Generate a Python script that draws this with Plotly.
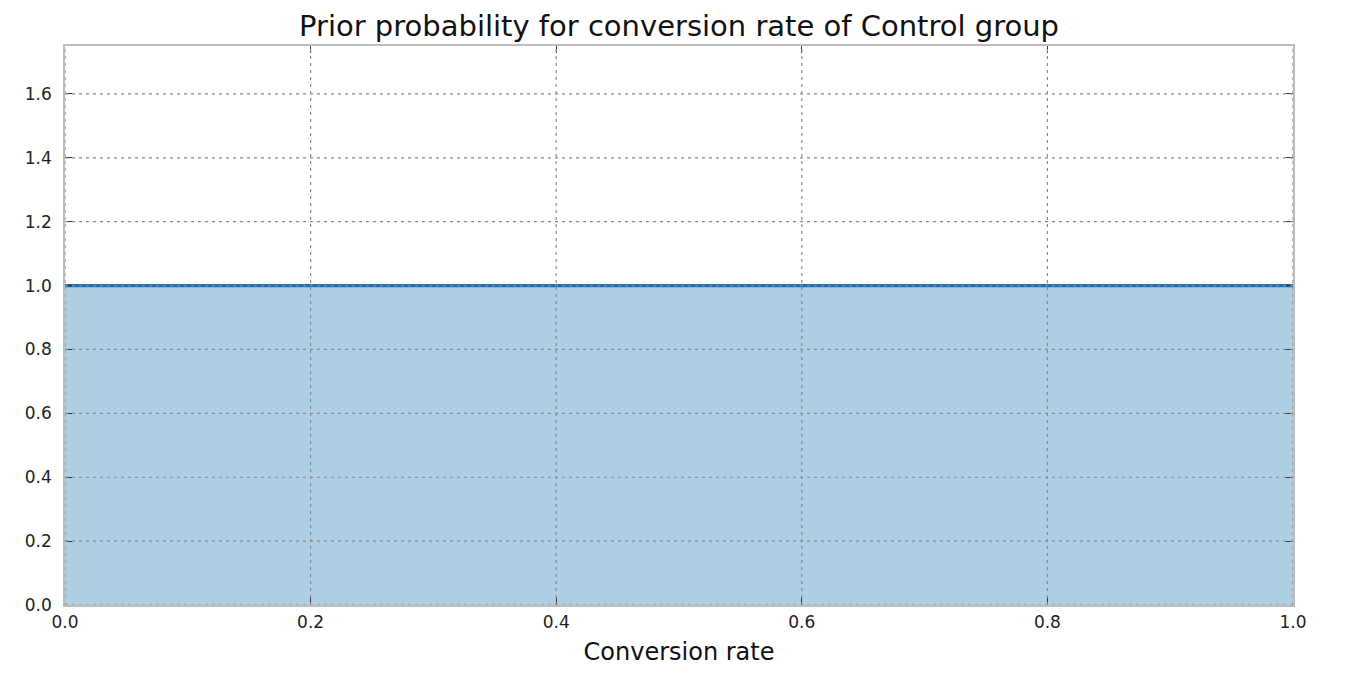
import plotly.graph_objects as go

# Uniform prior Beta(1,1) for conversion rate
conversion_rate = [0.0, 0.25, 0.5, 0.75, 1.0]
prior_density = [1.0, 1.0, 1.0, 1.0, 1.0]

x_ticks = [0.0, 0.2, 0.4, 0.6, 0.8, 1.0]
x_tick_labels = ["0.0", "0.2", "0.4", "0.6", "0.8", "1.0"]
y_ticks = [0.0, 0.2, 0.4, 0.6, 0.8, 1.0, 1.2, 1.4, 1.6]
y_tick_labels = ["0.0", "0.2", "0.4", "0.6", "0.8", "1.0", "1.2", "1.4", "1.6"]

fig = go.Figure()
fig.add_trace(go.Scatter(
    x=conversion_rate, y=prior_density, mode="lines",
    line=dict(color="#1f6fae", width=3.2),
    fill="tozeroy", fillcolor="rgba(174,207,227,1)",
    showlegend=False, hoverinfo="skip",
))

# Grid lines drawn above the filled area (matplotlib classic style)
grid_line = dict(color="#8a8a8a", width=1.2, dash="3px,4px")
for xv in x_ticks:
    fig.add_shape(type="line", xref="x", yref="paper", x0=xv, x1=xv, y0=0, y1=1,
                  line=grid_line, layer="above")
for yv in y_ticks:
    fig.add_shape(type="line", xref="paper", yref="y", x0=0, x1=1, y0=yv, y1=yv,
                  line=grid_line, layer="above")

axis_common = dict(
    showline=True, linecolor="#bdbdbd", linewidth=1.5, mirror="ticks",
    ticks="inside", ticklen=7, tickcolor="#333333", tickwidth=1.3,
    showgrid=False, zeroline=False, layer="above traces",
    tickfont=dict(family="DejaVu Sans", size=17, color="#222222"),
)

fig.update_layout(
    width=1366, height=686,
    margin=dict(l=57, r=81, t=38, b=89),
    paper_bgcolor="white", plot_bgcolor="white",
    title=dict(text="Prior probability for conversion rate of Control group",
               x=0.5, xref="paper", xanchor="center", y=0.974, yanchor="middle",
               font=dict(family="DejaVu Sans", size=29, color="#111111")),
    xaxis=dict(range=[0, 1], tickvals=x_ticks, ticktext=x_tick_labels,
               ticklabelstandoff=1,
               title=dict(text="Conversion rate", standoff=12,
                          font=dict(family="DejaVu Sans", size=24, color="#111111")),
               **axis_common),
    yaxis=dict(range=[0, 1.75], tickvals=y_ticks, ticktext=y_tick_labels,
               ticklabelstandoff=8,
               **axis_common),
)

fig.write_html("out.html")
